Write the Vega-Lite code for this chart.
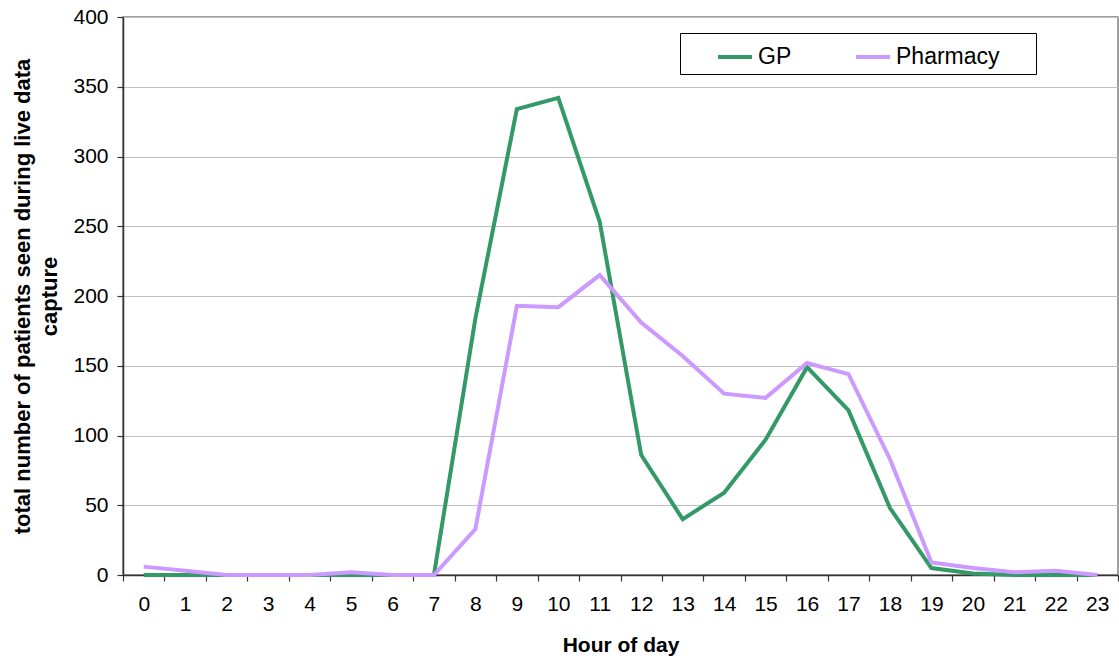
{
  "$schema": "https://vega.github.io/schema/vega-lite/v6.json",
  "width": 995,
  "height": 558,
  "autosize": {"type": "none"},
  "padding": {"left": 123, "top": 17, "right": 1, "bottom": 84},
  "background": "white",
  "config": {
    "font": "Liberation Sans",
    "view": {"stroke": "#808080", "strokeWidth": 1.5},
    "axis": {
      "labelFont": "Liberation Sans",
      "titleFont": "Liberation Sans",
      "labelFontSize": 21,
      "titleFontSize": 21,
      "titleFontWeight": "bold",
      "labelColor": "black",
      "titleColor": "black",
      "domainColor": "#333333",
      "tickColor": "#333333",
      "domainWidth": 1.5,
      "tickWidth": 1.2,
      "tickSize": 6
    }
  },
  "data": {
    "values": [
      {"hour": 0, "series": "GP", "patients": 0},
      {"hour": 1, "series": "GP", "patients": 0},
      {"hour": 2, "series": "GP", "patients": 0},
      {"hour": 3, "series": "GP", "patients": 0},
      {"hour": 4, "series": "GP", "patients": 0},
      {"hour": 5, "series": "GP", "patients": 0},
      {"hour": 6, "series": "GP", "patients": 0},
      {"hour": 7, "series": "GP", "patients": 0},
      {"hour": 8, "series": "GP", "patients": 184},
      {"hour": 9, "series": "GP", "patients": 334},
      {"hour": 10, "series": "GP", "patients": 342},
      {"hour": 11, "series": "GP", "patients": 253},
      {"hour": 12, "series": "GP", "patients": 86},
      {"hour": 13, "series": "GP", "patients": 40},
      {"hour": 14, "series": "GP", "patients": 59},
      {"hour": 15, "series": "GP", "patients": 97},
      {"hour": 16, "series": "GP", "patients": 149},
      {"hour": 17, "series": "GP", "patients": 118},
      {"hour": 18, "series": "GP", "patients": 48},
      {"hour": 19, "series": "GP", "patients": 5},
      {"hour": 20, "series": "GP", "patients": 1},
      {"hour": 21, "series": "GP", "patients": 0},
      {"hour": 22, "series": "GP", "patients": 0},
      {"hour": 23, "series": "GP", "patients": 0},
      {"hour": 0, "series": "Pharmacy", "patients": 6},
      {"hour": 1, "series": "Pharmacy", "patients": 3},
      {"hour": 2, "series": "Pharmacy", "patients": 0},
      {"hour": 3, "series": "Pharmacy", "patients": 0},
      {"hour": 4, "series": "Pharmacy", "patients": 0},
      {"hour": 5, "series": "Pharmacy", "patients": 2},
      {"hour": 6, "series": "Pharmacy", "patients": 0},
      {"hour": 7, "series": "Pharmacy", "patients": 0},
      {"hour": 8, "series": "Pharmacy", "patients": 33},
      {"hour": 9, "series": "Pharmacy", "patients": 193},
      {"hour": 10, "series": "Pharmacy", "patients": 192},
      {"hour": 11, "series": "Pharmacy", "patients": 215},
      {"hour": 12, "series": "Pharmacy", "patients": 181},
      {"hour": 13, "series": "Pharmacy", "patients": 157},
      {"hour": 14, "series": "Pharmacy", "patients": 130},
      {"hour": 15, "series": "Pharmacy", "patients": 127},
      {"hour": 16, "series": "Pharmacy", "patients": 152},
      {"hour": 17, "series": "Pharmacy", "patients": 144},
      {"hour": 18, "series": "Pharmacy", "patients": 83},
      {"hour": 19, "series": "Pharmacy", "patients": 9},
      {"hour": 20, "series": "Pharmacy", "patients": 5},
      {"hour": 21, "series": "Pharmacy", "patients": 2},
      {"hour": 22, "series": "Pharmacy", "patients": 3},
      {"hour": 23, "series": "Pharmacy", "patients": 0}
    ]
  },
  "mark": {"type": "line", "strokeWidth": 4, "strokeJoin": "miter"},
  "encoding": {
    "x": {
      "field": "hour",
      "type": "ordinal",
      "scale": {"paddingInner": 0, "paddingOuter": 0},
      "axis": {
        "title": "Hour of day",
        "labelAngle": 0,
        "tickBand": "extent",
        "labelPadding": 12,
        "titlePadding": 20,
        "grid": false
      }
    },
    "y": {
      "field": "patients",
      "type": "quantitative",
      "scale": {"domain": [0, 400], "nice": false},
      "axis": {
        "title": ["total number of patients seen during live data", "capture"],
        "titleFontSize": 22,
        "values": [0, 50, 100, 150, 200, 250, 300, 350, 400],
        "grid": true,
        "gridColor": "#c0c0c0",
        "gridWidth": 1.2,
        "labelPadding": 9,
        "titlePadding": 11,
        "titleLineHeight": 27
      }
    },
    "color": {
      "field": "series",
      "type": "nominal",
      "scale": {"domain": ["GP", "Pharmacy"], "range": ["#339966", "#cc99ff"]},
      "legend": {
        "title": " ",
        "titleOrient": "right",
        "titleFontSize": 1,
        "titlePadding": 31,
        "orient": "none",
        "legendX": 557,
        "legendY": 16,
        "direction": "horizontal",
        "symbolType": "stroke",
        "symbolStrokeWidth": 4,
        "symbolSize": 1156,
        "labelFontSize": 23,
        "labelFont": "Liberation Sans",
        "labelColor": "black",
        "labelOffset": 4,
        "columnPadding": 31,
        "padding": 5,
        "symbolOffset": 31,
        "strokeColor": "black",
        "fillColor": "white"
      }
    }
  }
}
